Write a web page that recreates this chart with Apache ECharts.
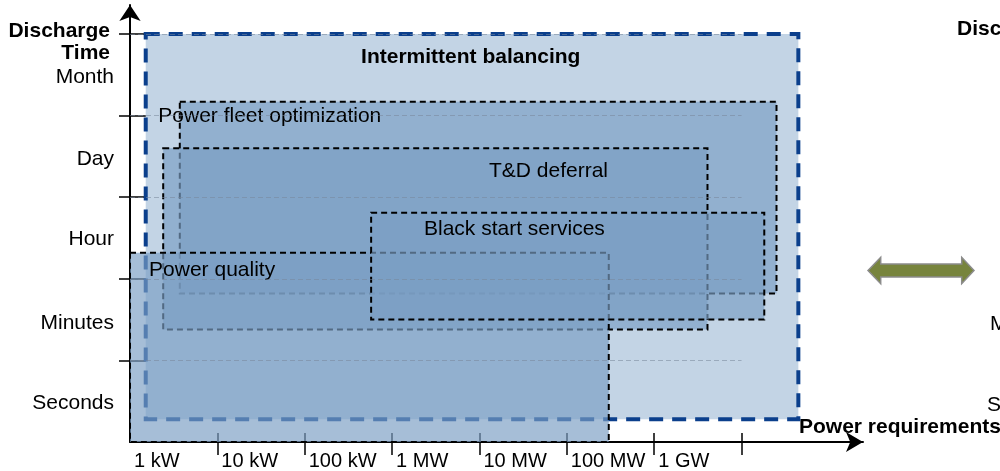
<!DOCTYPE html>
<html>
<head>
<meta charset="utf-8">
<script src="https://cdn.jsdelivr.net/npm/echarts@6/dist/echarts.min.js"></script>
<style>
  html, body { margin: 0; padding: 0; background: #fff; }
  #chart-container { width: 1000px; height: 471px; }
</style>
</head>
<body>
<div id="chart-container"></div>
<script>
// x = decades above 1 kW, y = discharge time band (0 seconds ... 5 top of month)
var powerTicks = [0, 1, 2, 3, 4, 5, 6];
var powerLabels = ['1 kW', '10 kW', '100 kW', '1 MW', '10 MW', '100 MW', '1 GW'];
var timeTicks = [0.48, 1.46, 2.48, 3.46, 4.47];
var timeLabels = ['Seconds', 'Minutes', 'Hour', 'Day', 'Month'];

// drawn in this order (later ones sit on top)
var services = ['Intermittent balancing', 'Power fleet optimization', 'T&D deferral', 'Power quality', 'Black start services'];
var powerFrom = [0.18, 0.57, 0.38, 0, 2.76];
var powerTo = [7.65, 7.40, 6.61, 5.48, 7.26];
var timeFrom = [0.28, 1.82, 1.38, 0, 1.50];
var timeTo = [5.0, 4.17, 3.60, 2.32, 2.81];
var labelPower = [3.90, 1.60, 4.79, 0.94, 4.40];
var labelTime = [4.71, 3.99, 3.32, 2.10, 2.61];

var FONT = '"Liberation Sans", Arial, sans-serif';

var dom = document.getElementById('chart-container');
var myChart = echarts.init(dom, null, { renderer: 'canvas' });

var data = services.map(function (s, i) {
  return [powerFrom[i], powerTo[i], timeFrom[i], timeTo[i], labelPower[i], labelTime[i]];
});

function renderItem(params, api) {
  var i = params.dataIndex;
  var outer = i === 0;
  var p0 = api.coord([api.value(0), api.value(3)]);
  var p1 = api.coord([api.value(1), api.value(2)]);
  var t = api.coord([api.value(4), api.value(5)]);
  return {
    type: 'group',
    children: [
      {
        type: 'rect',
        shape: { x: p0[0], y: p0[1], width: p1[0] - p0[0], height: p1[1] - p0[1] },
        style: outer
          ? { fill: '#c3d4e5', stroke: '#0b3f8c', lineWidth: 4, lineDash: [14, 9] }
          : { fill: 'rgba(122,158,196,0.67)', stroke: '#000', lineWidth: 2, lineDash: [6, 4] }
      },
      {
        type: 'text',
        x: t[0],
        y: t[1],
        style: {
          text: services[i],
          fill: '#000',
          font: (outer ? 'bold ' : '') + '21px ' + FONT,
          align: 'center',
          verticalAlign: 'middle'
        }
      }
    ]
  };
}

var gridLines = [1, 2, 3, 4, 5].map(function (k) {
  return [{ coord: [0, k] }, { coord: [7, k] }];
});

var option = {
  animation: false,
  grid: { left: 130, right: 137, top: 5, bottom: 29, containLabel: false, outerBoundsMode: 'none' },
  xAxis: [
    {
      type: 'value', min: 0, max: 8.39,
      axisLine: { onZero: false, lineStyle: { color: '#000', width: 2 }, symbol: ['none', 'arrow'], symbolSize: [15, 17] },
      axisTick: { show: true, customValues: [1, 2, 3, 4, 5, 6, 7], length: 13, lineStyle: { color: '#000', width: 1.5 } },
      axisLabel: {
        customValues: powerTicks,
        formatter: function (v) { return powerLabels[Math.round(v)]; },
        align: 'left', padding: [0, 0, 0, 4], margin: 9,
        color: '#000', fontSize: 20, fontFamily: FONT
      },
      splitLine: { show: false }
    },
    {
      type: 'value', min: 0, max: 8.39, position: 'bottom',
      axisLine: { show: false, onZero: false },
      axisTick: { show: true, inside: true, customValues: [1, 2, 3, 4, 5, 6, 7], length: 9, lineStyle: { color: '#000', width: 1.5 } },
      axisLabel: { show: false },
      splitLine: { show: false }
    }
  ],
  yAxis: [
    {
      type: 'value', min: 0, max: 5.355,
      axisLine: { onZero: false, lineStyle: { color: '#000', width: 2 }, symbol: ['none', 'arrow'], symbolSize: [16, 16] },
      axisTick: { show: true, customValues: [1, 2, 3, 4, 5], length: 11, lineStyle: { color: '#000', width: 1.5 } },
      axisLabel: {
        customValues: timeTicks,
        formatter: function (v) { return timeLabels[Math.floor(v)]; },
        margin: 16, color: '#000', fontSize: 21, fontFamily: FONT
      },
      splitLine: { show: false }
    },
    {
      type: 'value', min: 0, max: 5.355, position: 'left',
      axisLine: { show: false, onZero: false },
      axisTick: { show: true, inside: true, customValues: [1, 2, 3, 4, 5], length: 16, lineStyle: { color: '#000', width: 1.5 } },
      axisLabel: { show: false },
      splitLine: { show: false }
    }
  ],
  series: [
    {
      type: 'custom',
      renderItem: renderItem,
      clip: false,
      encode: { x: [0, 1, 4], y: [2, 3, 5] },
      data: data,
      silent: true,
      markLine: {
        silent: true,
        symbol: 'none',
        label: { show: false },
        lineStyle: { color: 'rgba(120,135,155,0.55)', type: [5, 3], width: 1 },
        data: gridLines
      }
    }
  ],
  graphic: [
    { type: 'text', x: 110, y: 31, style: { text: 'Discharge', font: 'bold 21px ' + FONT, fill: '#000', align: 'right', verticalAlign: 'middle' } },
    { type: 'text', x: 110, y: 53, style: { text: 'Time', font: 'bold 21px ' + FONT, fill: '#000', align: 'right', verticalAlign: 'middle' } },
    { type: 'text', x: 799, y: 427, style: { text: 'Power requirements', font: 'bold 21px ' + FONT, fill: '#000', align: 'left', verticalAlign: 'middle' } },
    { type: 'text', x: 957, y: 29, style: { text: 'Discharge', font: 'bold 21px ' + FONT, fill: '#000', align: 'left', verticalAlign: 'middle' } },
    { type: 'text', x: 990, y: 324, style: { text: 'Minutes', font: '21px ' + FONT, fill: '#000', align: 'left', verticalAlign: 'middle' } },
    { type: 'text', x: 987, y: 405, style: { text: 'Seconds', font: '21px ' + FONT, fill: '#000', align: 'left', verticalAlign: 'middle' } },
    {
      type: 'polygon',
      shape: { points: [[868, 270.5], [880.7, 257.3], [880.7, 264], [961.7, 264], [961.7, 257.3], [974, 270.5], [961.7, 283.7], [961.7, 277], [880.7, 277], [880.7, 283.7]] },
      style: { fill: '#77843d', stroke: '#8c8c8c', lineWidth: 1.5 }
    }
  ]
};

myChart.setOption(option);
window.addEventListener('resize', myChart.resize);
</script>
</body>
</html>
